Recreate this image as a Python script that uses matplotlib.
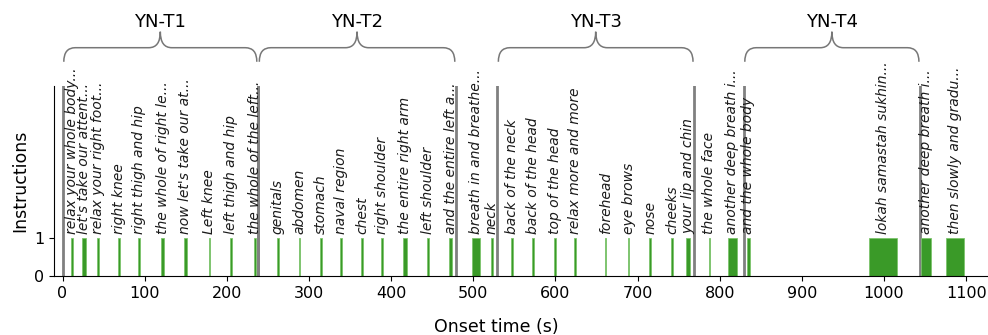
import matplotlib
matplotlib.use("Agg")
import matplotlib.pyplot as plt
from matplotlib.path import Path
from matplotlib.patches import PathPatch
import numpy as np

# instruction onsets (s), durations (s) and the (truncated) text shown
onsets = [10.5, 24, 42, 68, 92, 120, 147.5, 178, 204, 232.5, 261.5,
          287.5, 314, 338, 363.5, 387.5, 415, 444, 471, 499, 522, 545.5,
          572, 598, 623, 660.5, 688, 714.5, 741, 759, 786.5, 810, 833.5,
          982, 1045.5, 1076]
durations = [2, 5, 2.5, 1.5, 2.5, 3.5, 4, 1.5, 2.5, 3.5, 1.5,
             2, 2, 2, 2, 2.5, 4, 2.5, 3, 9, 1.5, 2.5,
             2.5, 2.5, 2.5, 1.5, 2, 1.5, 2, 5, 2, 11, 3,
             34, 12, 21]
labels = ["relax your whole body...", "let's take our attent...",
          "relax your right foot...", "right knee", "right thigh and hip",
          "the whole of right le...", "now let's take our at...", "Left knee",
          "left thigh and hip", "the whole of the left...", "genitals",
          "abdomen", "stomach", "naval region", "chest", "right shoulder",
          "the entire right arm", "left shoulder", "and the entire left a...",
          "breath in and breathe...", "neck", "back of the neck",
          "back of the head", "top of the head", "relax more and more",
          "forehead", "eye brows", "nose", "cheeks", "your lip and chin",
          "the whole face", "another deep breath i...", "and the whole body",
          "lokah samastah sukhin...", "another deep breath i...",
          "then slowly and gradu..."]

# task blocks
block_names = ["YN-T1", "YN-T2", "YN-T3", "YN-T4"]
block_start = [0, 238, 529, 829]
block_end = [238, 479, 769, 1044]

fig = plt.figure(figsize=(9.88, 3.35), dpi=100)
ax = fig.add_axes([0.055, 0.176, 0.9437, 0.568])

for s, e in zip(block_start, block_end):
    ax.axvline(s, color="gray", lw=2, zorder=1)
    ax.axvline(e, color="gray", lw=2, zorder=1)

ax.bar(onsets, [1] * len(onsets), width=durations, align="edge",
       color="#3a9a28", edgecolor="#7cc46c", linewidth=0.6, zorder=2)

for o, d, t in zip(onsets, durations, labels):
    ax.text(o + d / 2, 1.1, t, rotation=90, ha="center", va="bottom",
            fontsize=10, style="italic", color="#1a1a1a")


def brace(x0, x1, y, tip, top, r):
    xm = (x0 + x1) / 2
    verts = [(x0, tip), (x0, y), (x0 + r, y),
             (xm - r, y), (xm, y), (xm, top),
             (xm, y), (xm + r, y),
             (x1 - r, y), (x1, y), (x1, tip)]
    codes = [Path.MOVETO, Path.CURVE3, Path.CURVE3,
             Path.LINETO, Path.CURVE3, Path.CURVE3,
             Path.CURVE3, Path.CURVE3,
             Path.LINETO, Path.CURVE3, Path.CURVE3]
    return PathPatch(Path(verts, codes), fc="none", ec="#777777", lw=1.1,
                     clip_on=False)


for name, s, e in zip(block_names, block_start, block_end):
    ax.add_patch(brace(s + 1.5, e - 1.5, 6.0, 5.63, 6.42, 14))
    ax.text((s + e) / 2, 6.45, name, ha="center", va="bottom", fontsize=13,
            clip_on=False)

ax.set_xlim(-10, 1125)
ax.set_ylim(0, 5)
ax.set_yticks([0, 1])
ax.set_xticks(np.arange(0, 1101, 100))
ax.tick_params(labelsize=11.5)
ax.spines["top"].set_visible(False)
ax.spines["right"].set_visible(False)
ax.set_ylabel("Instructions", fontsize=12.5)
ax.set_xlabel("Onset time (s)", fontsize=12.5)
ax.xaxis.set_label_coords(0.4737, -0.22)

fig.savefig("out.png", dpi=100)
